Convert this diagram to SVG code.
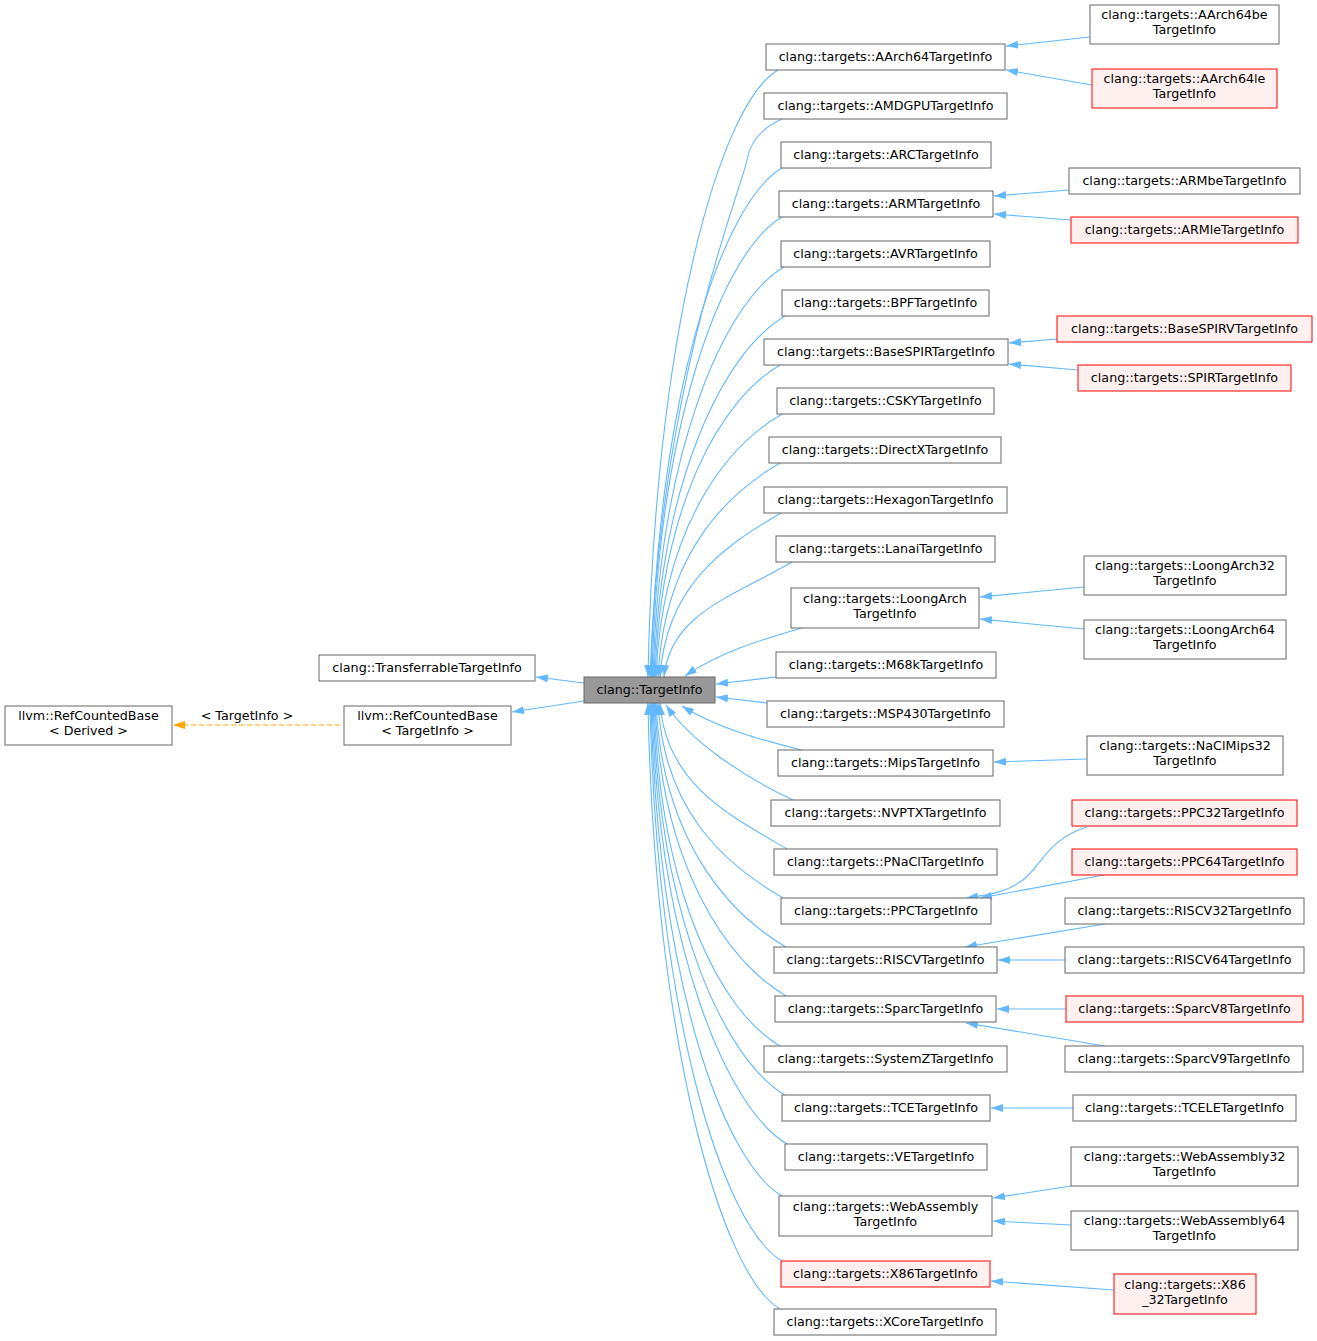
<svg xmlns="http://www.w3.org/2000/svg" width="1317" height="1341" viewBox="0 0 1317 1341">
<style>
.n rect{fill:#fff;stroke:#666;stroke-width:1}
.r rect{fill:#fff0f0;stroke:#f00;stroke-width:1}
.g rect{fill:#999;stroke:#666;stroke-width:1}
text{font-family:"DejaVu Sans","Liberation Sans",sans-serif;font-size:12.7px;fill:#000;text-anchor:middle;transform:translate(0px,-1px)}
.e path{fill:none;stroke:#63b8ff;stroke-width:1.1;marker-end:url(#a)}
.e path.d{stroke:#ffa500;stroke-dasharray:5,3;marker-end:url(#o)}
</style>
<defs>
<marker id="a" viewBox="0 0 12 8" refX="12" refY="4" markerWidth="12" markerHeight="8" orient="auto" markerUnits="userSpaceOnUse"><path d="M0,0 L12,4 L0,8 z" fill="#63b8ff"/></marker>
<marker id="o" viewBox="0 0 12 8" refX="12" refY="4" markerWidth="12" markerHeight="8" orient="auto" markerUnits="userSpaceOnUse"><path d="M0,0 L12,4 L0,8 z" fill="#ffa500"/></marker>
</defs>
<rect width="1317" height="1341" fill="#fff"/>
<g id="edges" class="e">
<path class="d" d="M340,725 L173,725"/>
<text x="247" y="721">&lt; TargetInfo &gt;</text>
<path d="M584,683 L536,677"/>
<path d="M584,701 L512,712"/>
<path d="M778,70 C718,105 654,343 648,677"/>
<path d="M782,119 C762,128 750,142 747,160 C743,185 660,380 650,677"/>
<path d="M782,168 C722,203 657,397 651,677"/>
<path d="M782,217 C722,252 658,424 652,677"/>
<path d="M784,267 C724,302 659,451 653,677"/>
<path d="M785,316 C725,351 660,478 654,677"/>
<path d="M780,365 C720,400 661,505 655,677"/>
<path d="M782,414 C722,449 662,532 656,677"/>
<path d="M780,463 C720,498 664,559 658,677"/>
<path d="M781,513 C721,548 666,587 660,677"/>
<path d="M792,562 C732,597 670,614 664,677"/>
<path d="M802,628 C760,640 720,652 685,676"/>
<path d="M776,677 L716,684"/>
<path d="M767,703 L716,697"/>
<path d="M805,751 C770,742 720,730 682,706"/>
<path d="M793,800 C740,775 690,740 666,705"/>
<path d="M787,849 C727,814 666,783 660,703"/>
<path d="M783,898 C723,863 664,810 658,703"/>
<path d="M786,947 C726,912 662,837 656,703"/>
<path d="M786,996 C726,961 661,864 655,703"/>
<path d="M780,1046 C720,1011 660,892 654,703"/>
<path d="M785,1095 C725,1060 659,919 653,703"/>
<path d="M787,1144 C727,1109 658,946 652,703"/>
<path d="M782,1196 C722,1161 657,974 651,703"/>
<path d="M782,1261 C722,1226 656,1010 650,703"/>
<path d="M780,1309 C720,1274 654,1036 648,703"/>
<path d="M1090,37 L1006,46"/>
<path d="M1092,85 L1006,70"/>
<path d="M1069,190 L994,196"/>
<path d="M1071,220 L994,214"/>
<path d="M1057,339 L1009,343"/>
<path d="M1078,370 L1009,364"/>
<path d="M1084,587 L980,597"/>
<path d="M1084,629 L980,619"/>
<path d="M1087,759 L994,762"/>
<path d="M1087,827 C1045,840 1040,870 1020,882 C1005,892 990,895 966,898"/>
<path d="M1104,875 L980,898"/>
<path d="M1105,924 L965,947"/>
<path d="M1065,960 L998,960"/>
<path d="M1066,1009 L997,1009"/>
<path d="M1105,1046 L966,1023"/>
<path d="M1073,1108 L991,1108"/>
<path d="M1071,1186 L993,1198"/>
<path d="M1071,1225 L993,1221"/>
<path d="M1114,1290 L991,1281"/>
</g>
<g id="rcb_derived" class="n"><rect x="5" y="706" width="167" height="39"/><text x="88.5" y="721">llvm::RefCountedBase</text><text x="88.5" y="736">&lt; Derived &gt;</text></g>
<g id="rcb_ti" class="n"><rect x="344" y="706" width="167" height="39"/><text x="427.5" y="721">llvm::RefCountedBase</text><text x="427.5" y="736">&lt; TargetInfo &gt;</text></g>
<g id="transfer" class="n"><rect x="319" y="655" width="216" height="26"/><text x="427" y="672.5">clang::TransferrableTargetInfo</text></g>
<g id="targetinfo" class="g"><rect x="584" y="677" width="131" height="26"/><text x="649.5" y="694.5">clang::TargetInfo</text></g>
<g id="aarch64" class="n"><rect x="766" y="44" width="239" height="26"/><text x="885.5" y="61.5">clang::targets::AArch64TargetInfo</text></g>
<g id="amdgpu" class="n"><rect x="764" y="93" width="243" height="26"/><text x="885.5" y="110.5">clang::targets::AMDGPUTargetInfo</text></g>
<g id="arc" class="n"><rect x="781" y="142" width="210" height="26"/><text x="886" y="159.5">clang::targets::ARCTargetInfo</text></g>
<g id="arm" class="n"><rect x="779" y="191" width="214" height="26"/><text x="886" y="208.5">clang::targets::ARMTargetInfo</text></g>
<g id="avr" class="n"><rect x="781" y="241" width="209" height="26"/><text x="885.5" y="258.5">clang::targets::AVRTargetInfo</text></g>
<g id="bpf" class="n"><rect x="782" y="290" width="207" height="26"/><text x="885.5" y="307.5">clang::targets::BPFTargetInfo</text></g>
<g id="basespir" class="n"><rect x="764" y="339" width="244" height="26"/><text x="886" y="356.5">clang::targets::BaseSPIRTargetInfo</text></g>
<g id="csky" class="n"><rect x="777" y="388" width="217" height="26"/><text x="885.5" y="405.5">clang::targets::CSKYTargetInfo</text></g>
<g id="directx" class="n"><rect x="769" y="437" width="232" height="26"/><text x="885" y="454.5">clang::targets::DirectXTargetInfo</text></g>
<g id="hexagon" class="n"><rect x="764" y="487" width="243" height="26"/><text x="885.5" y="504.5">clang::targets::HexagonTargetInfo</text></g>
<g id="lanai" class="n"><rect x="776" y="536" width="219" height="26"/><text x="885.5" y="553.5">clang::targets::LanaiTargetInfo</text></g>
<g id="loongarch" class="n"><rect x="791" y="588" width="188" height="40"/><text x="885" y="604">clang::targets::LoongArch</text><text x="885" y="619">TargetInfo</text></g>
<g id="m68k" class="n"><rect x="776" y="652" width="220" height="26"/><text x="886" y="669.5">clang::targets::M68kTargetInfo</text></g>
<g id="msp430" class="n"><rect x="767" y="701" width="237" height="26"/><text x="885.5" y="718.5">clang::targets::MSP430TargetInfo</text></g>
<g id="mips" class="n"><rect x="778" y="750" width="215" height="26"/><text x="885.5" y="767.5">clang::targets::MipsTargetInfo</text></g>
<g id="nvptx" class="n"><rect x="771" y="800" width="229" height="26"/><text x="885.5" y="817.5">clang::targets::NVPTXTargetInfo</text></g>
<g id="pnacl" class="n"><rect x="774" y="849" width="223" height="26"/><text x="885.5" y="866.5">clang::targets::PNaClTargetInfo</text></g>
<g id="ppc" class="n"><rect x="781" y="898" width="210" height="26"/><text x="886" y="915.5">clang::targets::PPCTargetInfo</text></g>
<g id="riscv" class="n"><rect x="774" y="947" width="223" height="26"/><text x="885.5" y="964.5">clang::targets::RISCVTargetInfo</text></g>
<g id="sparc" class="n"><rect x="775" y="996" width="221" height="26"/><text x="885.5" y="1013.5">clang::targets::SparcTargetInfo</text></g>
<g id="systemz" class="n"><rect x="764" y="1046" width="243" height="26"/><text x="885.5" y="1063.5">clang::targets::SystemZTargetInfo</text></g>
<g id="tce" class="n"><rect x="782" y="1095" width="208" height="26"/><text x="886" y="1112.5">clang::targets::TCETargetInfo</text></g>
<g id="ve" class="n"><rect x="785" y="1144" width="202" height="26"/><text x="886" y="1161.5">clang::targets::VETargetInfo</text></g>
<g id="webassembly" class="n"><rect x="779" y="1196" width="213" height="40"/><text x="885.5" y="1212">clang::targets::WebAssembly</text><text x="885.5" y="1227">TargetInfo</text></g>
<g id="x86" class="r"><rect x="781" y="1261" width="209" height="26"/><text x="885.5" y="1278.5">clang::targets::X86TargetInfo</text></g>
<g id="xcore" class="n"><rect x="774" y="1309" width="222" height="26"/><text x="885" y="1326.5">clang::targets::XCoreTargetInfo</text></g>
<g id="aarch64be" class="n"><rect x="1090" y="5" width="189" height="39"/><text x="1184.5" y="20">clang::targets::AArch64be</text><text x="1184.5" y="35">TargetInfo</text></g>
<g id="aarch64le" class="r"><rect x="1092" y="69" width="185" height="39"/><text x="1184.5" y="84">clang::targets::AArch64le</text><text x="1184.5" y="99">TargetInfo</text></g>
<g id="armbe" class="n"><rect x="1069" y="168" width="231" height="26"/><text x="1184.5" y="185.5">clang::targets::ARMbeTargetInfo</text></g>
<g id="armle" class="r"><rect x="1071" y="217" width="227" height="26"/><text x="1184.5" y="234.5">clang::targets::ARMleTargetInfo</text></g>
<g id="basespirv" class="r"><rect x="1057" y="316" width="255" height="26"/><text x="1184.5" y="333.5">clang::targets::BaseSPIRVTargetInfo</text></g>
<g id="spir" class="r"><rect x="1078" y="365" width="213" height="26"/><text x="1184.5" y="382.5">clang::targets::SPIRTargetInfo</text></g>
<g id="loongarch32" class="n"><rect x="1084" y="556" width="202" height="39"/><text x="1185" y="571">clang::targets::LoongArch32</text><text x="1185" y="586">TargetInfo</text></g>
<g id="loongarch64" class="n"><rect x="1084" y="620" width="202" height="39"/><text x="1185" y="635">clang::targets::LoongArch64</text><text x="1185" y="650">TargetInfo</text></g>
<g id="naclmips32" class="n"><rect x="1087" y="736" width="196" height="39"/><text x="1185" y="751">clang::targets::NaClMips32</text><text x="1185" y="766">TargetInfo</text></g>
<g id="ppc32" class="r"><rect x="1072" y="800" width="225" height="26"/><text x="1184.5" y="817.5">clang::targets::PPC32TargetInfo</text></g>
<g id="ppc64" class="r"><rect x="1072" y="849" width="225" height="26"/><text x="1184.5" y="866.5">clang::targets::PPC64TargetInfo</text></g>
<g id="riscv32" class="n"><rect x="1065" y="898" width="239" height="26"/><text x="1184.5" y="915.5">clang::targets::RISCV32TargetInfo</text></g>
<g id="riscv64" class="n"><rect x="1065" y="947" width="239" height="26"/><text x="1184.5" y="964.5">clang::targets::RISCV64TargetInfo</text></g>
<g id="sparcv8" class="r"><rect x="1066" y="996" width="237" height="26"/><text x="1184.5" y="1013.5">clang::targets::SparcV8TargetInfo</text></g>
<g id="sparcv9" class="n"><rect x="1065" y="1046" width="238" height="26"/><text x="1184" y="1063.5">clang::targets::SparcV9TargetInfo</text></g>
<g id="tcele" class="n"><rect x="1073" y="1095" width="223" height="26"/><text x="1184.5" y="1112.5">clang::targets::TCELETargetInfo</text></g>
<g id="webassembly32" class="n"><rect x="1071" y="1147" width="227" height="39"/><text x="1184.5" y="1162">clang::targets::WebAssembly32</text><text x="1184.5" y="1177">TargetInfo</text></g>
<g id="webassembly64" class="n"><rect x="1071" y="1211" width="227" height="39"/><text x="1184.5" y="1226">clang::targets::WebAssembly64</text><text x="1184.5" y="1241">TargetInfo</text></g>
<g id="x86_32" class="r"><rect x="1114" y="1274" width="142" height="40"/><text x="1185" y="1290">clang::targets::X86</text><text x="1185" y="1305">_32TargetInfo</text></g>
</svg>
